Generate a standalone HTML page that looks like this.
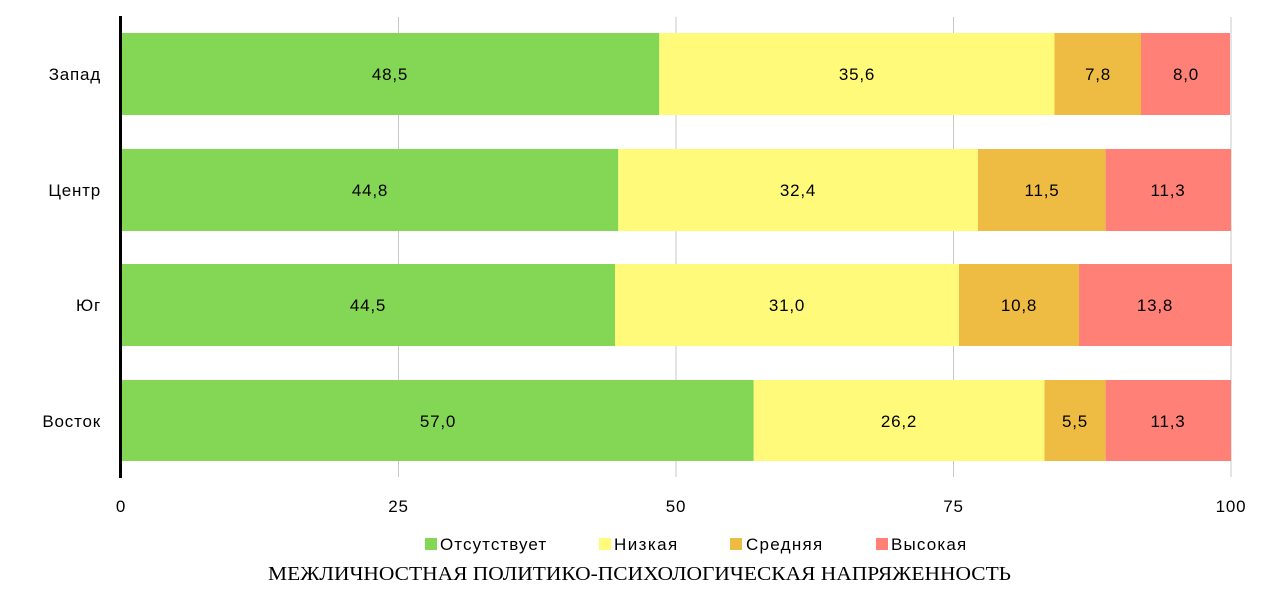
<!DOCTYPE html>
<html><head><meta charset="utf-8"><style>body{margin:0;background:#fff}svg{display:block}</style></head>
<body>
<svg width="1285" height="606" xmlns="http://www.w3.org/2000/svg" font-family="Liberation Sans, DejaVu Sans, sans-serif" font-size="17" letter-spacing="0.8">
<rect width="1285" height="606" fill="#fff"/>
<g stroke="#c8c8c8" stroke-width="1">
<line x1="398.5" y1="17" x2="398.5" y2="477"/>
<line x1="676" y1="17" x2="676" y2="477"/>
<line x1="953.5" y1="17" x2="953.5" y2="477"/>
<line x1="1231" y1="17" x2="1231" y2="477"/>
</g>
<rect x="122" y="33" width="537.3" height="82" fill="#83D755"/>
<rect x="659.3" y="33" width="395.2" height="82" fill="#FFFA7A"/>
<rect x="1054.5" y="33" width="86.5" height="82" fill="#EFBC43"/>
<rect x="1141" y="33" width="89" height="82" fill="#FF8077"/>
<rect x="122" y="149" width="496.3" height="82" fill="#83D755"/>
<rect x="618.3" y="149" width="359.6" height="82" fill="#FFFA7A"/>
<rect x="977.9" y="149" width="127.7" height="82" fill="#EFBC43"/>
<rect x="1105.6" y="149" width="125.4" height="82" fill="#FF8077"/>
<rect x="122" y="264" width="493" height="82" fill="#83D755"/>
<rect x="615" y="264" width="344" height="82" fill="#FFFA7A"/>
<rect x="959" y="264" width="120" height="82" fill="#EFBC43"/>
<rect x="1079" y="264" width="153" height="82" fill="#FF8077"/>
<rect x="122" y="380" width="631.7" height="81" fill="#83D755"/>
<rect x="753.7" y="380" width="290.8" height="81" fill="#FFFA7A"/>
<rect x="1044.5" y="380" width="61.1" height="81" fill="#EFBC43"/>
<rect x="1105.6" y="380" width="125.4" height="81" fill="#FF8077"/>
<line x1="120.5" y1="16" x2="120.5" y2="478" stroke="#000" stroke-width="3"/>
<g fill="#000" text-anchor="middle">
<text x="390" y="80">48,5</text><text x="857" y="80">35,6</text><text x="1098" y="80">7,8</text><text x="1186" y="80">8,0</text>
<text x="370" y="196">44,8</text><text x="798" y="196">32,4</text><text x="1042" y="196">11,5</text><text x="1168" y="196">11,3</text>
<text x="368" y="311">44,5</text><text x="787" y="311">31,0</text><text x="1019" y="311">10,8</text><text x="1155" y="311">13,8</text>
<text x="438" y="427">57,0</text><text x="899" y="427">26,2</text><text x="1075" y="427">5,5</text><text x="1168" y="427">11,3</text>
<text x="121" y="512">0</text><text x="398.5" y="512">25</text><text x="676" y="512">50</text><text x="953.5" y="512">75</text><text x="1231" y="512">100</text>
</g>
<g fill="#000" text-anchor="end">
<text x="101" y="80">Запад</text><text x="101" y="196">Центр</text><text x="101" y="311">Юг</text><text x="101" y="427">Восток</text>
</g>
<rect x="425" y="538" width="12" height="12" fill="#83D755"/>
<text x="440" y="550" textLength="107">Отсутствует</text>
<rect x="599" y="538" width="12" height="12" fill="#FFFA7A"/>
<text x="614" y="550" textLength="64">Низкая</text>
<rect x="730" y="538" width="12" height="12" fill="#EFBC43"/>
<text x="746" y="550" textLength="77">Средняя</text>
<rect x="876" y="538" width="12" height="12" fill="#FF8077"/>
<text x="891" y="550" textLength="76">Высокая</text>
<text x="268" y="580" textLength="743" lengthAdjust="spacingAndGlyphs" letter-spacing="0" font-family="Liberation Serif, serif" font-size="20">МЕЖЛИЧНОСТНАЯ ПОЛИТИКО-ПСИХОЛОГИЧЕСКАЯ НАПРЯЖЕННОСТЬ</text>
</svg>
</body></html>
